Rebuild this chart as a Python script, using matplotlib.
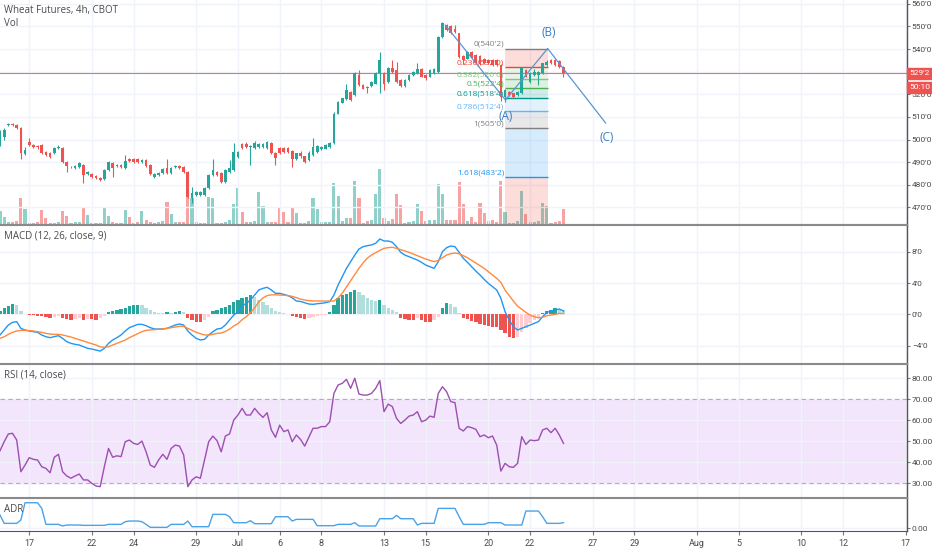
import numpy as np
import matplotlib.pyplot as plt

plt.rcParams['font.family'] = ['Open Sans', 'DejaVu Sans']

# 4h candles, price in cents
opens = [
    498.5, 501.0, 506.5, 506.75, 506.5, 505.0, 493.5, 499.0, 497.5, 497.25,
    497.5, 494.5, 494.0, 494.0, 496.25, 496.25, 490.0, 488.0, 487.5, 487.75,
    488.75, 484.75, 484.75, 484.0, 483.0, 482.5, 486.5, 489.5, 488.25, 488.75,
    487.5, 491.5, 491.5, 491.25, 490.0, 491.0, 488.75, 483.5, 484.25, 485.0,
    487.5, 485.25, 487.75, 488.25, 487.75, 485.5, 474.0, 475.5, 475.5, 475.5,
    478.5, 484.25, 485.5, 485.0, 481.25, 485.5, 486.5, 492.25, 498.0, 498.0,
    496.5, 496.25, 496.75, 496.75, 496.25, 498.5, 494.0, 496.25, 496.25, 496.25,
    495.0, 491.25, 494.25, 492.5, 491.0, 493.0, 494.5, 495.75, 496.0, 496.5,
    498.25, 511.5, 516.25, 517.75, 521.0, 519.75, 528.5, 524.0, 523.25, 523.5,
    524.75, 529.25, 529.25, 525.5, 531.5, 530.75, 526.25, 523.5, 526.25, 528.5,
    529.25, 531.0, 528.5, 527.75, 529.25, 530.0, 545.5, 550.5, 550.0, 549.0,
    547.0, 537.0, 535.75, 538.5, 537.25, 537.0, 535.5, 535.0, 535.0, 535.0,
    533.0, 519.0, 521.0, 520.5, 519.75, 520.5, 530.75, 525.5, 528.5, 528.5,
    529.25, 533.0, 535.0, 535.0, 534.75, 532.25,
]
highs = [
    504.0, 505.0, 507.5, 507.5, 507.0, 505.5, 496.75, 500.5, 498.0, 497.75,
    498.0, 495.0, 494.5, 496.75, 497.5, 496.75, 490.5, 488.25, 488.75, 490.0,
    489.25, 486.0, 485.0, 484.25, 483.5, 487.0, 490.5, 490.0, 489.25, 489.25,
    493.0, 491.75, 492.0, 491.75, 491.5, 491.5, 489.25, 485.0, 485.5, 487.5,
    491.5, 487.75, 488.75, 488.75, 488.25, 486.0, 479.0, 477.25, 477.25, 479.0,
    484.75, 491.5, 486.0, 485.5, 487.0, 491.0, 498.5, 495.0, 498.5, 499.0,
    497.5, 499.5, 498.5, 498.5, 499.5, 499.0, 494.5, 496.75, 496.75, 496.75,
    495.5, 494.25, 494.75, 492.75, 494.75, 500.5, 497.5, 497.25, 498.0, 499.0,
    512.0, 517.0, 518.5, 524.5, 521.5, 529.75, 530.75, 524.5, 523.75, 526.0,
    529.75, 538.75, 529.75, 532.0, 535.0, 534.5, 526.75, 526.75, 529.0, 530.5,
    533.75, 531.5, 529.0, 531.0, 531.5, 545.75, 552.0, 551.0, 550.5, 550.5,
    547.25, 537.5, 539.25, 539.0, 538.0, 537.5, 536.0, 535.5, 535.5, 535.5,
    533.25, 522.25, 521.5, 520.75, 521.5, 532.0, 531.0, 529.75, 531.0, 530.5,
    534.0, 535.0, 535.5, 535.5, 535.25, 532.5,
]
lows = [
    497.0, 500.0, 506.0, 506.0, 504.5, 491.5, 493.0, 497.0, 496.25, 496.0,
    493.5, 492.5, 491.75, 493.5, 495.75, 489.5, 485.5, 487.25, 487.0, 487.25,
    480.75, 484.25, 483.0, 482.5, 481.5, 482.0, 486.0, 483.5, 487.75, 487.5,
    487.0, 490.0, 489.5, 489.5, 489.5, 487.75, 484.25, 483.0, 484.0, 484.75,
    484.75, 484.75, 487.5, 487.0, 485.0, 474.0, 472.0, 475.0, 475.0, 475.0,
    478.25, 484.0, 484.0, 480.75, 480.75, 485.0, 486.0, 491.75, 495.75, 496.25,
    488.75, 495.75, 496.25, 496.25, 495.75, 493.5, 488.75, 493.5, 494.0, 494.0,
    487.75, 491.0, 492.0, 489.75, 490.5, 492.75, 494.25, 495.25, 495.75, 496.25,
    498.0, 511.25, 516.0, 517.5, 517.0, 519.25, 523.75, 522.25, 520.5, 523.25,
    524.5, 520.75, 522.0, 525.0, 529.5, 525.0, 523.25, 523.25, 526.0, 528.0,
    529.0, 527.5, 526.5, 527.5, 529.0, 529.5, 545.0, 548.0, 546.5, 547.25,
    536.25, 533.5, 535.5, 536.0, 533.25, 533.0, 533.25, 533.25, 532.5, 532.5,
    517.0, 516.75, 519.25, 518.5, 519.25, 520.0, 527.5, 525.0, 528.0, 524.0,
    529.0, 532.5, 533.25, 532.5, 531.75, 527.75,
]
closes = [
    503.25, 504.25, 506.75, 506.5, 505.0, 494.0, 495.5, 497.5, 496.75, 496.5,
    494.0, 493.0, 492.25, 496.25, 496.75, 490.0, 488.25, 487.75, 488.25, 489.5,
    484.25, 485.5, 483.5, 483.0, 482.0, 486.5, 490.0, 487.5, 488.75, 487.75,
    490.5, 490.5, 490.0, 490.0, 491.0, 488.25, 484.75, 484.75, 485.0, 487.0,
    485.25, 487.25, 488.25, 487.5, 485.5, 474.5, 476.5, 476.75, 476.75, 478.5,
    484.25, 486.5, 484.25, 481.25, 486.5, 487.5, 494.5, 494.5, 496.25, 496.75,
    497.0, 498.5, 498.0, 498.0, 499.0, 494.0, 491.75, 494.0, 494.5, 494.5,
    491.5, 494.0, 492.5, 490.25, 494.25, 496.5, 497.0, 496.75, 497.5, 498.5,
    511.5, 516.75, 518.25, 522.0, 517.5, 529.25, 524.0, 522.5, 522.75, 525.5,
    529.25, 535.0, 524.75, 531.5, 530.0, 525.5, 523.5, 526.25, 528.5, 530.0,
    531.0, 527.75, 527.0, 530.75, 531.0, 545.5, 551.5, 548.5, 547.0, 547.5,
    536.5, 535.0, 538.75, 536.5, 533.75, 533.5, 533.75, 533.75, 533.0, 533.0,
    519.0, 522.0, 519.75, 519.0, 521.0, 531.5, 527.75, 529.25, 530.0, 530.0,
    533.75, 534.5, 533.75, 533.0, 532.25, 529.25,
]
volumes = [
    7000, 4000, 1500, 1500, 2000, 13500, 8000, 1000, 1000, 1500,
    7500, 3500, 1000, 1000, 1500, 7000, 4500, 1000, 1500, 1500,
    9000, 5000, 1000, 1000, 1000, 8500, 4500, 1500, 1000, 1000,
    7500, 4000, 1000, 1500, 7000, 2500, 1500, 1000, 1500, 2000,
    11500, 5500, 1500, 1500, 1500, 14000, 13500, 1500, 1000, 1000,
    14000, 13500, 1000, 1000, 1500, 2500, 10500, 18500, 6500, 1500,
    1500, 2000, 16500, 9500, 1500, 1500, 1500, 8500, 6500, 1500,
    9000, 6000, 1000, 1000, 2000, 13500, 8000, 1500, 1500, 1500,
    21000, 14500, 2000, 3500, 3500, 22000, 13500, 1000, 2000, 2500,
    15500, 28000, 3500, 2000, 3000, 15500, 10000, 1000, 1500, 2000,
    10500, 7000, 2000, 2500, 2500, 20500, 15500, 2500, 2500, 2500,
    21500, 10500, 2000, 4000, 1500, 11000, 6000, 2000, 2500, 1500,
    22000, 6500, 1000, 1000, 2000, 17000, 5500, 1500, 1500, 2000,
    11000, 9500, 1000, 1500, 2000, 8000,
]

# MACD (12, 26, close, 9)
macd_line = [
    -2.65, -2.01, -1.37, -1.03, -0.94, -1.80, -2.01, -2.14, -2.23, -2.31,
    -2.65, -2.87, -2.99, -2.87, -2.74, -3.08, -3.51, -3.72, -3.85, -3.94,
    -4.15, -4.36, -4.45, -4.58, -4.71, -4.36, -3.72, -3.29, -2.99, -2.65,
    -2.14, -1.71, -1.50, -1.29, -1.29, -1.46, -1.71, -1.88, -1.88, -1.88,
    -1.80, -1.58, -1.37, -1.24, -1.37, -2.14, -2.65, -3.08, -3.29, -3.21,
    -2.65, -2.23, -1.88, -1.80, -1.37, -0.73, -0.09, 0.34, 1.07, 1.41,
    1.83, 2.47, 3.12, 3.33, 3.46, 3.12, 2.69, 2.69, 2.56, 2.39,
    2.13, 1.71, 1.65, 1.49, 1.32, 1.28, 1.36, 1.41, 1.49, 1.62,
    2.47, 3.76, 4.82, 5.89, 6.75, 7.60, 8.37, 8.67, 8.80, 8.89,
    9.10, 9.66, 9.40, 9.40, 9.23, 8.67, 7.95, 7.60, 7.39, 7.18,
    6.96, 6.66, 6.32, 6.11, 5.89, 6.75, 8.03, 8.54, 8.76, 8.67,
    7.95, 7.18, 6.66, 6.11, 5.55, 5.04, 4.48, 3.97, 3.54, 3.12,
    2.05, 0.34, -0.73, -1.58, -2.01, -1.80, -1.58, -1.37, -1.16, -0.94,
    -0.30, 0.25, 0.42, 0.55, 0.68, 0.42,
]
signal_line = [
    -3.08, -2.87, -2.57, -2.31, -2.14, -2.05, -2.05, -2.10, -2.14, -2.23,
    -2.31, -2.44, -2.53, -2.57, -2.57, -2.65, -2.78, -2.91, -3.08, -3.25,
    -3.42, -3.59, -3.76, -3.94, -4.15, -4.23, -4.15, -3.94, -3.72, -3.51,
    -3.29, -2.99, -2.74, -2.48, -2.23, -2.05, -2.01, -1.97, -1.93, -1.88,
    -1.80, -1.71, -1.63, -1.54, -1.54, -1.80, -2.05, -2.31, -2.48, -2.65,
    -2.65, -2.57, -2.44, -2.40, -2.20, -1.90, -1.50, -1.20, -0.70, -0.30,
    0.20, 0.80, 1.60, 2.10, 2.40, 2.50, 2.50, 2.48, 2.45, 2.40,
    2.30, 2.13, 1.96, 1.83, 1.75, 1.71, 1.71, 1.71, 1.71, 1.70,
    1.70, 2.10, 2.70, 3.50, 4.30, 5.10, 5.90, 6.60, 7.20, 7.60,
    7.90, 8.20, 8.45, 8.55, 8.59, 8.46, 8.29, 8.12, 7.95, 7.73,
    7.52, 7.30, 7.09, 6.92, 6.75, 6.92, 7.26, 7.60, 7.77, 7.86,
    7.77, 7.52, 7.26, 6.92, 6.58, 6.24, 5.89, 5.47, 5.04, 4.61,
    4.10, 3.10, 2.40, 1.70, 1.05, 0.65, 0.25, -0.10, -0.30, -0.45,
    -0.38, -0.18, -0.10, 0.00, 0.12, 0.10,
]
macd_hist = [
    0.43, 0.77, 1.11, 1.28, 1.20, 0.43, 0.09, -0.09, -0.09, -0.17,
    -0.17, -0.30, -0.43, -0.30, -0.17, -0.43, -0.60, -0.68, -0.56, -0.43,
    -0.68, -0.56, -0.64, -0.68, -0.47, -0.17, 0.26, 0.43, 0.56, 0.68,
    0.85, 1.07, 1.20, 1.22, 1.20, 0.85, 0.56, 0.34, 0.17, 0.13,
    0.26, 0.17, 0.34, 0.47, 0.26, -0.51, -0.77, -0.94, -1.03, -0.77,
    -0.34, 0.43, 0.56, 0.77, 0.98, 1.20, 1.54, 1.84, 2.14, 2.26,
    2.48, 2.26, 1.84, 1.54, 1.20, 0.77, 0.43, 0.26, 0.13, 0.09,
    -0.17, -0.30, -0.51, -0.64, -0.43, -0.30, -0.17, -0.09, -0.03, 0.26,
    1.20, 2.05, 2.48, 2.60, 2.90, 3.12, 2.91, 2.48, 2.14, 1.84,
    1.71, 1.84, 1.20, 0.85, 0.56, 0.26, -0.43, -0.60, -0.73, -0.77,
    -0.51, -0.73, -0.94, -0.96, -0.73, -0.30, 0.85, 1.41, 1.28, 0.98,
    0.13, -0.43, -0.60, -0.85, -1.03, -1.24, -1.37, -1.50, -1.58, -1.63,
    -2.01, -2.44, -2.86, -3.08, -2.86, -2.31, -1.71, -1.15, -0.73, -0.30,
    0.17, 0.43, 0.56, 0.77, 0.68, 0.56,
]

# RSI (14, close)
rsi = [
    45.5, 49.8, 53.5, 53.8, 50.6, 35.5, 38.7, 42.2, 41.4, 41.1,
    37.9, 37.1, 35.0, 42.4, 43.8, 35.5, 33.5, 32.4, 33.5, 34.4,
    31.6, 31.6, 30.0, 28.7, 28.4, 37.9, 46.6, 42.4, 43.1, 42.7,
    49.8, 50.6, 49.0, 48.5, 50.1, 45.0, 38.7, 37.6, 41.1, 43.8,
    41.4, 46.6, 48.2, 47.7, 43.5, 28.4, 31.6, 33.1, 32.4, 41.1,
    49.8, 52.5, 50.3, 45.0, 52.5, 53.5, 60.1, 62.5, 65.7, 62.5,
    62.5, 65.7, 63.3, 61.4, 63.6, 55.4, 51.9, 57.7, 54.6, 55.4,
    49.8, 53.0, 50.9, 47.7, 51.9, 56.2, 56.2, 57.0, 57.0, 59.3,
    72.8, 76.8, 77.6, 79.5, 75.2, 80.0, 72.5, 72.0, 72.0, 72.8,
    75.2, 78.9, 64.1, 67.7, 66.5, 60.9, 58.5, 60.1, 62.0, 62.5,
    64.1, 59.3, 60.1, 62.0, 61.4, 72.8, 76.0, 73.6, 68.9, 68.4,
    56.2, 54.9, 57.0, 56.5, 55.7, 52.2, 53.0, 51.7, 52.5, 48.2,
    35.8, 39.5, 37.9, 37.6, 39.5, 52.2, 48.5, 50.6, 50.3, 50.6,
    55.4, 56.2, 54.1, 56.2, 53.0, 49.0,
]

# ADR
adr = [
    6.67, 2.5, 2.5, 2.5, 2.5, 4.17, 12.83, 12.83, 12.83, 12.83,
    10.0, 2.0, 2.0, 2.0, 2.0, 1.17, 1.67, 1.67, 1.67, 1.67,
    1.5, 1.5, 1.5, 1.5, 1.5, 1.5, 2.0, 2.0, 2.0, 2.0,
    3.33, 3.67, 3.67, 3.67, 3.33, 2.0, 0.5, 0.5, 0.5, 0.5,
    0.5, 2.0, 2.0, 2.0, 2.0, 3.67, 0.83, 0.83, 0.83, 0.83,
    0.83, 7.0, 7.0, 7.0, 7.0, 5.83, 2.83, 2.83, 2.83, 2.83,
    3.83, 2.33, 2.33, 2.33, 2.33, 2.33, 5.83, 5.83, 5.83, 5.83,
    3.67, 4.5, 4.5, 4.5, 4.5, 4.5, 1.33, 1.33, 1.33, 1.33,
    1.33, 2.0, 2.0, 2.0, 2.0, 2.83, 1.17, 1.17, 1.17, 1.17,
    1.17, 4.83, 4.83, 4.83, 4.83, 6.5, 4.83, 4.83, 4.83, 4.83,
    1.67, 2.5, 2.5, 2.5, 2.5, 10.0, 10.0, 10.0, 10.0, 10.0,
    5.83, 2.0, 2.0, 2.0, 2.0, 2.0, 2.0, 2.83, 2.83, 2.83,
    2.83, 1.67, 1.67, 1.67, 1.67, 1.67, 8.67, 8.67, 8.67, 8.67,
    5.83, 2.5, 2.5, 2.5, 2.5, 2.83,
]

# time axis (bar index of each day start)
day_ticks = [7, 22, 32, 47, 57, 67, 77, 92, 102, 117, 127, 142, 152, 167, 177, 192, 202, 217]
day_labels = ["17", "22", "24", "29", "Jul", "6", "8", "13", "15", "20", "22",
              "27", "29", "Aug", "5", "10", "12", "17"]

price_ticks = [470, 480, 490, 500, 510, 520, 530, 540, 550, 560]
last_price = 529.25
countdown = "50:10"

# fib retracement drawn from (A) to (B)
fib_x = [121.1, 131.2]
fib_high = 540.25
fib_low = 505.0
fib_levels = [0, 0.236, 0.382, 0.5, 0.618, 0.786, 1, 1.618, 2.618]
fib_colors = ["#808080", "#f44336", "#81c784", "#4caf50", "#009688",
              "#64b5f6", "#808080", "#2196f3", "#f44336"]

# ABC wave drawing
wave_x = [106.7, 121.1, 131.2, 145.1]
wave_y = [550.6, 517.5, 540.25, 507.3]
wave_names = ["(A)", "(B)", "(C)"]
wave_name_x = [121.1, 131.4, 145.3]
wave_name_y = [510.0, 547.3, 500.7]

UP = "#26a69a"
DOWN = "#ef5350"
TEXT = "#4a4a4a"
GRID = "#f0f3fa"
AXIS_FONT = ['Roboto', 'DejaVu Sans']


def fmt_price(v):
    q = round(v * 4) / 4
    whole = int(q)
    return f"{whole}'{int(round((q - whole) * 8))}"


def style_panel(ax, ylim, ticks, labels):
    ax.set_xlim(0, 217.3)
    ax.set_ylim(*ylim)
    ax.yaxis.tick_right()
    ax.set_yticks(ticks)
    ax.set_yticklabels(labels, family=AXIS_FONT)
    ax.set_xticks(day_ticks)
    ax.grid(True, color=GRID, lw=1)
    ax.set_axisbelow(True)
    ax.tick_params(axis='y', length=2.5, width=0.8, color='#777777',
                   labelsize=6, labelcolor=TEXT, pad=1)
    ax.tick_params(axis='x', length=0, labelbottom=False)
    ax.spines['left'].set_visible(False)
    ax.spines['top'].set_visible(False)
    ax.spines['bottom'].set_visible(False)
    ax.spines['right'].set_color('#555555')
    ax.spines['right'].set_linewidth(1)


def main():
    W, H = 932, 550

    def rect(top, bottom):
        return [0, 1 - bottom / H, 907 / W, (bottom - top) / H]

    fig = plt.figure(figsize=(W / 100, H / 100), dpi=100)
    x = np.arange(len(closes))
    o = np.array(opens)
    c = np.array(closes)
    up = c >= o
    colors = np.where(up, UP, DOWN)

    # volume (background layer)
    ax_vol = fig.add_axes(rect(0, 225))
    ax_vol.set_xlim(0, 217.3)
    ax_vol.set_ylim(0, 112500)
    vol_colors = np.where(up, "#8fd1c9", "#f5a3a3")
    ax_vol.bar(x, volumes, width=0.75, color=vol_colors)
    ax_vol.axis('off')

    # price
    ax = fig.add_axes(rect(0, 225), sharex=ax_vol)
    ax.patch.set_alpha(0)
    style_panel(ax, (462.2, 561.7), price_ticks, [fmt_price(v) for v in price_ticks])
    ax.spines['bottom'].set_visible(True)
    ax.spines['bottom'].set_color('#8a8a8a')
    ax.spines['bottom'].set_linewidth(1.5)

    # fib fills and lines
    span = fib_high - fib_low
    fib_prices = [fib_high - lvl * span for lvl in fib_levels]
    for i in range(len(fib_levels) - 1):
        ax.fill_between(fib_x, fib_prices[i + 1], fib_prices[i],
                        color=fib_colors[i + 1], alpha=0.18, lw=0, zorder=1)
    for i, lvl in enumerate(fib_levels):
        ax.hlines(fib_prices[i], fib_x[0], fib_x[1], color=fib_colors[i], lw=1, zorder=1.5)
        if fib_prices[i] > 462.2:
            ax.text(fib_x[0] - 0.3, fib_prices[i] + 0.3,
                    f"{lvl:g}({fmt_price(fib_prices[i])})",
                    color=fib_colors[i], fontsize=6, ha='right', va='bottom', zorder=4)

    # last price line
    ax.axhline(last_price, color="#f07070", lw=0.8, zorder=1.6)

    # candles
    ax.vlines(x, lows, highs, color=colors, lw=0.8, zorder=3)
    body_low = np.minimum(o, c)
    body_h = np.maximum(np.abs(c - o), 0.2)
    ax.bar(x, body_h, bottom=body_low, width=0.65, color=colors, zorder=3)

    # wave drawing
    ax.plot(wave_x, wave_y, color="#5b95d1", lw=0.9, zorder=4)
    for name, wx, wy in zip(wave_names, wave_name_x, wave_name_y):
        ax.text(wx, wy, name, color="#3a7bbf", fontsize=8.5, ha='center', va='center', zorder=5)

    ax.text(4 / 907, 1 - 11 / 225, "Wheat Futures, 4h, CBOT", transform=ax.transAxes,
            fontsize=7, color=TEXT, va='center')
    ax.text(4 / 907, 1 - 23 / 225, "Vol", transform=ax.transAxes,
            fontsize=7, color=TEXT, va='center')

    box = dict(boxstyle='square,pad=0.3', fc=DOWN, ec=DOWN)
    ax.annotate(fmt_price(last_price), xy=(1, last_price), xycoords=('axes fraction', 'data'),
                xytext=(2, 0), textcoords='offset points', ha='left', va='center',
                fontsize=6, family=AXIS_FONT, color='white', bbox=box,
                annotation_clip=False, zorder=10)
    ax.annotate(countdown, xy=(1, last_price), xycoords=('axes fraction', 'data'),
                xytext=(2, -10), textcoords='offset points', ha='left', va='center',
                fontsize=6, family=AXIS_FONT, color='white', bbox=box,
                annotation_clip=False, zorder=10)

    # MACD
    ax_m = fig.add_axes(rect(225, 363), sharex=ax_vol)
    style_panel(ax_m, (-6.24, 11.45), [-4, 0, 4, 8], ["\u22124'0", "0'0", "4'0", "8'0"])
    hist = np.array(macd_hist)
    prev = np.concatenate([[hist[0] - 1], hist[:-1]])
    hist_colors = np.where(hist >= 0,
                           np.where(hist > prev, "#26a69a", "#b2dfdb"),
                           np.where(hist > prev, "#ffcdd2", "#ef5350"))
    ax_m.bar(x, hist, width=0.8, color=hist_colors, zorder=2)
    ax_m.plot(x, macd_line, color="#2196f3", lw=1, zorder=3)
    ax_m.plot(x, signal_line, color="#ff8a3d", lw=1, zorder=3)
    ax_m.text(4 / 907, 1 - 11 / 138, "MACD (12, 26, close, 9)", transform=ax_m.transAxes,
              fontsize=7, color=TEXT, va='center')

    # RSI
    ax_r = fig.add_axes(rect(364, 498), sharex=ax_vol)
    style_panel(ax_r, (23.0, 86.8), [30, 40, 50, 60, 70, 80],
                ["30.00", "40.00", "50.00", "60.00", "70.00", "80.00"])
    ax_r.axhspan(30, 70, color="#f2e5fc", zorder=0.5)
    ax_r.axhline(70, color="#b7a8c4", lw=0.8, ls=(0, (4, 3)), zorder=1)
    ax_r.axhline(30, color="#b7a8c4", lw=0.8, ls=(0, (4, 3)), zorder=1)
    ax_r.plot(x, rsi, color="#9c4fb0", lw=1, zorder=3)
    ax_r.text(4 / 907, 1 - 11 / 134, "RSI (14, close)", transform=ax_r.transAxes,
              fontsize=7, color=TEXT, va='center')

    # ADR
    ax_a = fig.add_axes(rect(498, 531), sharex=ax_vol)
    style_panel(ax_a, (-1.33, 15.2), [0], ["0.00"])
    ax_a.plot(x, adr, color="#4aa3e8", lw=1, zorder=3)
    ax_a.text(4 / 907, 1 - 12 / 33, "ADR", transform=ax_a.transAxes,
              fontsize=7, color=TEXT, va='center')
    ax_a.set_xticklabels(day_labels, family=AXIS_FONT)
    ax_a.tick_params(axis='x', length=3, color='#777777', labelbottom=True,
                     labelsize=6.5, labelcolor=TEXT, pad=3)
    ax_a.spines['bottom'].set_visible(True)
    ax_a.spines['bottom'].set_color('#555555')

    for panel in (ax_m, ax_r, ax_a):
        panel.spines['top'].set_visible(True)
        panel.spines['top'].set_color('#8a8a8a')
        panel.spines['top'].set_linewidth(1.5)

    fig.savefig("out.png", dpi=100)


if __name__ == "__main__":
    main()
